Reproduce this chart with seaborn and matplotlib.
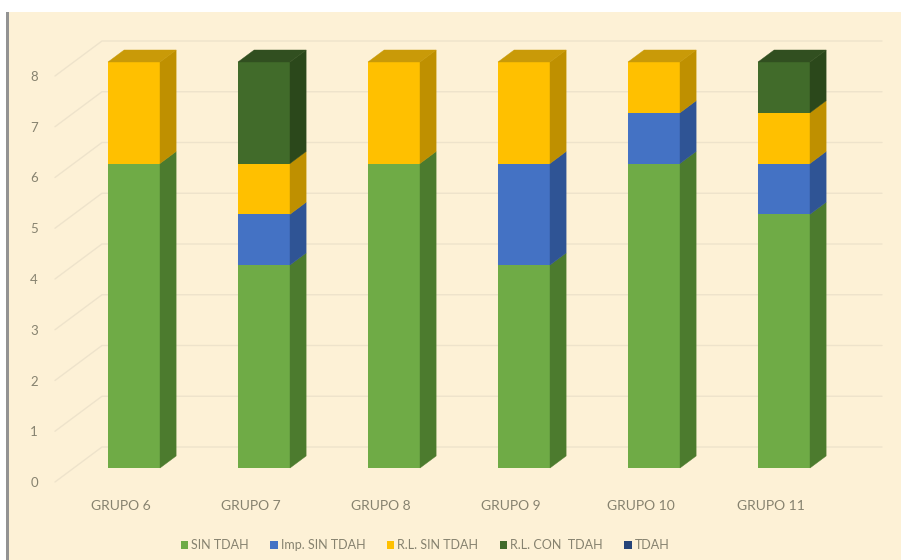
import numpy as np
import pandas as pd
import matplotlib
matplotlib.use("Agg")
import matplotlib.pyplot as plt
import seaborn as sns
from matplotlib.patches import Polygon, Rectangle

# ---- data ----
grupos = ["GRUPO 6", "GRUPO 7", "GRUPO 8", "GRUPO 9", "GRUPO 10", "GRUPO 11"]
series = ["SIN TDAH", "Imp. SIN TDAH", "R.L. SIN TDAH", "R.L. CON  TDAH", "TDAH"]
sin_tdah = [6, 4, 6, 4, 6, 5]
imp_sin_tdah = [0, 1, 0, 2, 1, 1]
rl_sin_tdah = [2, 1, 2, 2, 1, 1]
rl_con_tdah = [0, 2, 0, 0, 0, 1]
tdah = [0, 0, 0, 0, 0, 0]
y_ticks = [0, 1, 2, 3, 4, 5, 6, 7, 8]

values = [sin_tdah, imp_sin_tdah, rl_sin_tdah, rl_con_tdah, tdah]

front_col = ["#6FAB46", "#4472C4", "#FFC000", "#416B2A", "#264478"]
side_col = ["#4C7B2E", "#2F5495", "#BF9000", "#2B481B", "#1A2F54"]
top_col = ["#5A8F38", "#3A62A8", "#C99A08", "#314F20", "#203A66"]

BG = "#FDF1D6"
TXT = "#86826F"
GRID = "#EEE3CB"

sns.set_theme(style="white")
plt.rcParams["font.family"] = ["Lato", "DejaVu Sans"]

W, H = 901, 560
fig = plt.figure(figsize=(W / 100, H / 100), dpi=100, facecolor=BG)

# white strip on top, white margin + grey rule on the left
fig.patches.append(Rectangle((0, 1 - 12 / H), 1, 12 / H, transform=fig.transFigure,
                             facecolor="white", edgecolor="none", zorder=0))
fig.patches.append(Rectangle((0, 0), 6 / W, 1, transform=fig.transFigure,
                             facecolor="white", edgecolor="none", zorder=0))
fig.patches.append(Rectangle((6 / W, 0), 3 / W, 1 - 12 / H, transform=fig.transFigure,
                             facecolor="#939393", edgecolor="none", zorder=0))

# pixel layout of the plotting area
PX0, STEP = 134.0, 130.0      # x pixel of first category, pixels per category
PY0, UNIT = 468.0, 50.75      # y pixel of value 0 on bar fronts, pixels per unit
ax_l, ax_r, ax_t, ax_b = 45, 901, 12, 490
ax = fig.add_axes([ax_l / W, (H - ax_b) / H, (ax_r - ax_l) / W, (ax_b - ax_t) / H])
ax.set_facecolor("none")

# oblique depth projection (d = 0 front, d = 1 back wall)
DXU = 47.0 / STEP
DYU = 35.0 / UNIT
BF, BB = 0.40, 0.743          # depth of bar front and back faces


def proj(xw, v, d):
    return xw + (d - BF) * DXU, v + (d - BF) * DYU


# ---- walls / gridlines ----
xw_left = -0.608 + BF * DXU
xw_right = 5.754 - (1 - BF) * DXU
for v in y_ticks:
    x0, y0 = proj(xw_left, v, 0)
    x1, y1 = proj(xw_left, v, 1)
    x2, y2 = proj(xw_right, v, 1)
    ax.plot([x0, x1, x2], [y0, y1, y2], color=GRID, lw=1.0, zorder=1,
            solid_joinstyle="miter")

# ---- stacked bars: front faces via seaborn ----
rows = []
for s, vals in zip(series, values):
    for g, v in zip(grupos, vals):
        rows.append({"grupo": g, "serie": s, "n": v})
df = pd.DataFrame(rows)
df["cum"] = df.groupby("grupo")["n"].cumsum()
df["base"] = df["cum"] - df["n"]

BAR_W = 52.0 / STEP
for k in range(len(series) - 1, -1, -1):
    sub = df[(df["serie"] == series[k]) & (df["n"] > 0)]
    if sub.empty:
        continue
    sns.barplot(data=sub, x="grupo", y="cum", order=grupos, color=front_col[k],
                saturation=1, width=BAR_W, edgecolor="none", linewidth=0,
                errorbar=None, ax=ax, zorder=3)

# ---- side and top faces ----
ox = (BB - BF) * DXU
oy = (BB - BF) * DYU
for i, g in enumerate(grupos):
    xr = i + BAR_W / 2
    xl = i - BAR_W / 2
    gd = df[df["grupo"] == g]
    top_k, top_v = None, 0
    for k, s in enumerate(series):
        r = gd[gd["serie"] == s].iloc[0]
        if r["n"] <= 0:
            continue
        b, t = r["base"], r["cum"]
        ax.add_patch(Polygon([(xr, b), (xr + ox, b + oy), (xr + ox, t + oy), (xr, t)],
                             closed=True, facecolor=side_col[k], edgecolor=side_col[k],
                             lw=0.3, zorder=3))
        top_k, top_v = k, t
    if top_k is not None:
        ax.add_patch(Polygon([(xl, top_v), (xr, top_v), (xr + ox, top_v + oy),
                              (xl + ox, top_v + oy)],
                             closed=True, facecolor=top_col[top_k], edgecolor=top_col[top_k],
                             lw=0.3, zorder=3))

# ---- axes scales and labels ----
ax.set_xlim((ax_l - PX0) / STEP, (ax_r - PX0) / STEP)
ax.set_ylim((PY0 - ax_b) / UNIT, (PY0 - ax_t) / UNIT)
ax.set_xlabel("")
ax.set_ylabel("")
ax.set_xticks(np.arange(len(grupos)) - 0.1, grupos)
ax.set_yticks([proj(xw_left, v, 0)[1] for v in y_ticks], [str(v) for v in y_ticks])
ax.tick_params(axis="x", length=0, pad=7, labelsize=10, labelcolor=TXT)
ax.tick_params(axis="y", length=0, pad=5, labelsize=9.5, labelcolor=TXT)
for sp in ax.spines.values():
    sp.set_visible(False)

# ---- legend ----
handles = [Rectangle((0, 0), 1, 1, facecolor=c, edgecolor="none") for c in front_col]
fig.legend(handles, series, loc="center", bbox_to_anchor=(425 / W, 1 - 545 / H),
           ncol=5, frameon=False, fontsize=9, labelcolor=TXT,
           handlelength=0.6, handleheight=0.6, handletextpad=0.25,
           columnspacing=1.7, borderaxespad=0)

fig.savefig("out.png", dpi=100, facecolor=BG)
